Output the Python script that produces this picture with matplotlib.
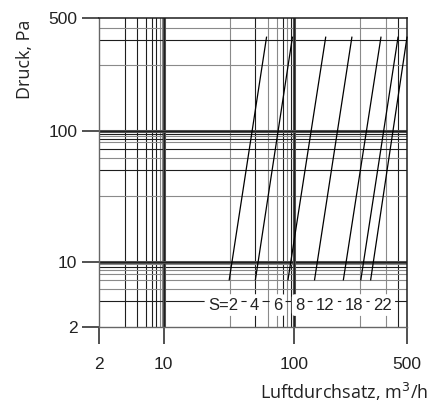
import numpy as np
import matplotlib.pyplot as plt

# --- Kennlinien: Luftdurchsatz (m3/h) unten und oben, Druck (Pa) ---
S_LABELS = ["S=2", "4", "6", "8", "12", "18", "22"]
Q_LOW = [31.8, 50.5, 89.9, 134, 202, 259, 298]
Q_HIGH = [61.5, 97.2, 157, 228, 345, 440, 500]
P_LOW = 6.4
P_HIGH = 382

# Position der Beschriftungen
LABEL_Q = [28.5, 49.8, 74.8, 108.5, 156, 234.5, 352]
LABEL_P = 3.42

X_TICKS = [2, 10, 100, 500]
Y_TICKS = [2, 10, 100, 500]
X_GRID = [3.79, 5.15, 6.39, 7.42, 8.30, 9.05, 9.51,
          32.2, 50.6, 63.2, 73.7, 81.9, 89.0, 94.3, 97.7,
          257, 369.5, 440]
Y_GRID = [3.78, 5.13, 6.36, 7.37, 8.14, 8.84, 9.38,
          32.0, 50.5, 62.4, 73.6, 82.3, 87.4, 91.5, 95.5,
          255.5, 367.6, 437.7]

K = "#1e1e1e"
G = "#8a8a8a"
X_GRID_COL = [K, K, K, K, K, G, G, G, K, G, G, K, G, K, G, G, G, K]
Y_GRID_COL = [K, G, G, G, G, K, G, G, K, G, K, G, K, G, K, G, K, G]

# Skala der Vorlage: log, aber je Abschnitt unterschiedlich gestreckt
KN_LOG = np.log10([2, 10, 100, 500])
KN_POS = np.array([0.0, 64.85, 195.15, 308.2])


def fwd(v):
    v = np.clip(np.asarray(v, dtype=float), 1e-3, None)
    return np.interp(np.log10(v), KN_LOG, KN_POS)


def inv(p):
    return 10 ** np.interp(p, KN_POS, KN_LOG)


W, H = 430, 403
fig = plt.figure(figsize=(W / 100, H / 100), dpi=100)
ax = fig.add_axes([99 / W, 1 - 326.7 / H, 308 / W, 308.4 / H])
ax.set_xscale("function", functions=(fwd, inv))
ax.set_yscale("function", functions=(fwd, inv))
ax.set_xlim(2, 500)
ax.set_ylim(2, 500)

for v, c in zip(X_GRID, X_GRID_COL):
    ax.axvline(v, color=c, lw=0.8, zorder=1)
for v, c in zip(Y_GRID, Y_GRID_COL):
    ax.axhline(v, color=c, lw=0.8, zorder=1)
for v in [10, 100]:
    ax.axvline(v, color="#555555", lw=2.2, zorder=1)
    ax.axvline(v, color=K, lw=0.9, zorder=1)
    ax.axhline(v, color="#555555", lw=2.2, zorder=1)
    ax.axhline(v, color=K, lw=0.9, zorder=1)

for q0, q1 in zip(Q_LOW, Q_HIGH):
    ax.plot([q0, q1], [P_LOW, P_HIGH], color="black", lw=0.9, zorder=3,
            clip_on=False)

for q, s in zip(LABEL_Q, S_LABELS):
    ax.text(q, LABEL_P, s, ha="center", va="center", fontsize=12,
            family="Liberation Sans", color="#222222", zorder=5,
            bbox=dict(boxstyle="round,pad=0.2", fc="white", ec="none"))

ax.set_xticks(X_TICKS)
ax.set_yticks(Y_TICKS)
ax.set_xticklabels([str(t) for t in X_TICKS])
ax.set_yticklabels([str(t) for t in Y_TICKS])
ax.minorticks_off()
ax.tick_params(axis="x", length=12, width=1.2, pad=10, color="#333333",
               labelsize=12.5)
ax.tick_params(axis="y", length=12, width=1.2, pad=3.5, color="#333333",
               labelsize=12.5)
for lab in ax.get_xticklabels() + ax.get_yticklabels():
    lab.set_family("Liberation Sans")
    lab.set_color("#222222")

for side in ["top", "right"]:
    ax.spines[side].set_color(K)
    ax.spines[side].set_linewidth(1.1)
for side in ["left", "bottom"]:
    ax.spines[side].set_color("#666666")
    ax.spines[side].set_linewidth(1.0)

fig.text(25 / W, 1 - 59 / H, "Druck, Pa", rotation=90, ha="center",
         va="center", fontsize=13, family="Open Sans", color="#222222")
fig.text(428 / W, 1 - 399 / H, "Luftdurchsatz, m$^3$/h", ha="right",
         va="baseline", fontsize=13, family="Open Sans", color="#222222")

fig.savefig("out.png", dpi=100)
